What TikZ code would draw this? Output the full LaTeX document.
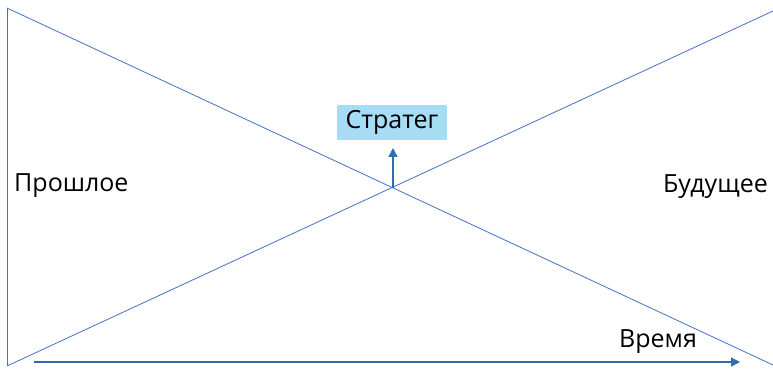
\documentclass[tikz,border=0pt]{standalone}
\usepackage{fontspec}
\setmainfont{Open Sans}
\usetikzlibrary{arrows.meta}
\definecolor{thinblue}{HTML}{4472C4}
\definecolor{arrblue}{HTML}{2E6DB4}
\definecolor{boxblue}{HTML}{A6DCF4}
\tikzset{
  thin line/.style={draw=thinblue, line width=0.8pt},
  arr line/.style={draw=arrblue, line width=1.3pt, -{Triangle[length=9pt,width=9pt]}},
  lbl/.style={font=\fontsize{25}{29}\selectfont, text=black, inner sep=0pt},
}
\begin{document}
\begin{tikzpicture}[x=1pt,y=1pt]
\useasboundingbox (0,0) rectangle (773,369);
\coordinate (tl) at (7,361);
\coordinate (bl) at (7,3);
\coordinate (br) at (773,4);
\coordinate (tr) at (773,358);
\coordinate (x) at (393,181);
\draw[thin line] (tl) -- (bl);
\draw[thin line] (tl) -- (br);
\draw[thin line] (bl) -- (tr);
\node[fill=boxblue, minimum width=110pt, minimum height=35pt, inner sep=0pt] (s) at (392,246.5) {};
\node[lbl] (st) at (s.center) {Стратег};
\coordinate (atop) at (393,221);
\draw[arr line] (x) -- (atop);
\coordinate (t0) at (34,7);
\coordinate (t1) at (740,7);
\draw[arr line] (t0) -- (t1);
\node[lbl, anchor=west] (past) at (14,183) {Прошлое};
\node[lbl, anchor=east] (fut) at (768,182) {Будущее};
\node[lbl] (time) at (658,27) {Время};
\end{tikzpicture}
\end{document}
